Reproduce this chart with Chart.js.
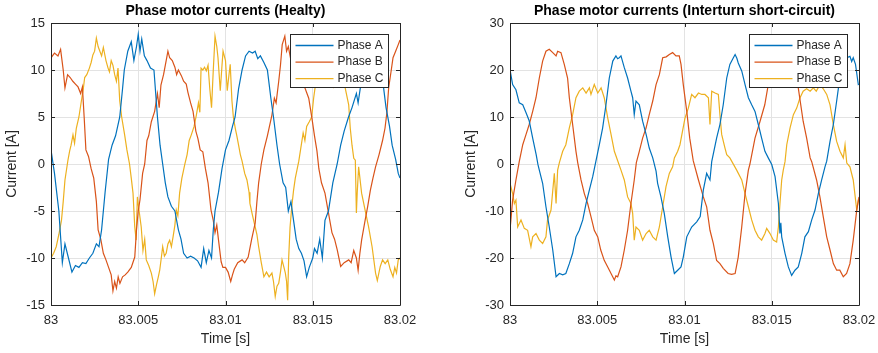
<!DOCTYPE html>
<html>
<head>
<meta charset="utf-8">
<script src="https://cdn.jsdelivr.net/npm/chart.js@4.4.0/dist/chart.umd.min.js"></script>
<style>
  body { margin: 0; background: #fff; width: 878px; height: 353px; overflow: hidden; position: relative; }
  canvas { position: absolute; top: 0; }
  #healthy { left: 0px; }
  #fault { left: 459px; }
</style>
</head>
<body>
<canvas id="healthy" width="430" height="353"></canvas>
<canvas id="fault" width="430" height="353"></canvas>
<script>
// time axis: ms after 83 s, ticks shown as seconds
var xTickValues = [0, 5, 10, 15, 20];
var xTickLabels = ["83", "83.005", "83.01", "83.015", "83.02"];
var phaseNames = ["Phase A", "Phase B", "Phase C"];
var phaseColors = ["#0072BD", "#D95319", "#EDB120"];

// healthy motor, [t ms, current A]
var healthyA = [[0,1.5],[0.2,-1],[0.45,-5],[0.65,-10.5],[0.8,-8.5],[1.0,-10],[1.2,-11.5],[1.4,-10.8],[1.6,-11],[1.8,-10.5],[2.0,-10.6],[2.2,-10],[2.4,-9.5],[2.6,-8.5],[2.75,-8.8],[2.9,-7],[3.1,-3],[3.3,0.5],[3.5,2],[3.7,3],[3.94,5],[4.1,8],[4.2,10],[4.4,12],[4.6,13],[4.75,11],[4.9,12.5],[5.0,13.8],[5.1,12],[5.2,13.3],[5.35,11.5],[5.5,11],[5.7,10.2],[5.9,10],[6.1,5],[6.25,2],[6.4,0],[6.55,-2],[6.7,-3.5],[6.9,-4.5],[7.1,-5],[7.3,-7],[7.45,-8],[7.6,-9.5],[7.8,-10],[8.0,-9.8],[8.2,-10],[8.4,-10.3],[8.6,-11],[8.75,-9],[8.9,-10.5],[9.05,-9.2],[9.2,-10],[9.3,-7],[9.4,-5],[9.6,-3],[9.8,-0.5],[10.0,1.5],[10.2,2.5],[10.4,4],[10.55,5],[10.75,8],[10.95,10],[11.15,11.5],[11.35,12],[11.55,11.8],[11.7,12],[11.85,11.2],[12.0,11.5],[12.2,10.8],[12.4,10],[12.6,7],[12.75,5],[12.95,2],[13.1,0],[13.3,-2],[13.45,-2.5],[13.6,-5],[13.75,-4],[13.9,-6],[14.05,-8],[14.2,-9],[14.35,-9.5],[14.5,-10.3],[14.65,-12],[14.8,-11],[15.0,-10],[15.1,-9],[15.25,-9.5],[15.4,-8],[15.55,-10],[15.7,-6],[15.9,-5],[16.15,-2],[16.4,0],[16.6,2],[16.8,3.5],[17.05,5],[17.25,6],[17.5,7.5],[17.6,6.5],[17.8,9],[18.1,11],[18.4,12],[18.7,11.5],[19.0,9],[19.2,6],[19.4,4],[19.55,2],[19.75,0.5],[19.9,-1],[20,-1.5]];
var healthyB = [[0,11.3],[0.2,11.8],[0.4,11.5],[0.55,12.2],[0.7,10],[0.8,8.1],[0.95,9.5],[1.1,9.2],[1.25,8.8],[1.4,8.5],[1.55,8.2],[1.7,7.5],[1.8,8.2],[1.9,5],[2.0,1.5],[2.15,0.8],[2.3,-0.5],[2.45,-1.5],[2.6,-4],[2.7,-7],[2.85,-8],[3.0,-9.5],[3.15,-10.2],[3.3,-11],[3.45,-11.8],[3.55,-13.5],[3.65,-12.5],[3.75,-13.2],[3.85,-12],[3.95,-12.7],[4.1,-12],[4.25,-11.8],[4.4,-11.5],[4.6,-11],[4.8,-9.9],[4.9,-7],[5.0,-5],[5.1,-3.8],[5.25,-1],[5.37,0],[5.5,2.5],[5.6,3],[5.75,4.5],[5.94,5.6],[6.1,7.5],[6.2,6],[6.3,8.4],[6.45,9.5],[6.6,11],[6.7,12],[6.8,11.3],[6.95,11],[7.1,10.3],[7.2,9.5],[7.3,10],[7.47,9.4],[7.6,8.8],[7.75,8.5],[7.85,7.6],[8.0,6.5],[8.14,5.6],[8.3,3.5],[8.42,2.7],[8.55,1.5],[8.7,1.3],[8.85,-0.5],[9.0,-2],[9.17,-4.9],[9.3,-6],[9.4,-7.3],[9.5,-6.5],[9.6,-8.1],[9.75,-10.4],[9.85,-11],[10.0,-11],[10.15,-11.5],[10.3,-12.5],[10.4,-11.8],[10.5,-11.2],[10.7,-10.5],[10.95,-10.2],[11.1,-10.5],[11.3,-9.9],[11.5,-8],[11.7,-6.3],[11.8,-4],[11.9,-2],[12.05,0],[12.2,1.5],[12.4,3],[12.66,5.2],[12.8,7],[12.9,6.5],[13.05,8.8],[13.15,10.5],[13.25,12.7],[13.4,13.6],[13.5,12],[13.6,12.5],[13.75,11],[13.95,10.5],[14.15,9.5],[14.35,8.5],[14.55,8.1],[14.77,7],[14.95,4.9],[15.1,3],[15.24,1.4],[15.35,-0.5],[15.5,-2],[15.7,-3.1],[15.9,-5.2],[16.1,-7.3],[16.25,-8],[16.4,-9.1],[16.6,-10.9],[16.8,-10.5],[17.06,-10.2],[17.2,-10.5],[17.35,-9.2],[17.5,-10],[17.6,-11.3],[17.7,-9.5],[17.8,-8.1],[18.0,-6],[18.15,-4.5],[18.3,-2.8],[18.45,-1.5],[18.6,-0.3],[18.8,1],[19.0,2.5],[19.14,3.8],[19.25,5.5],[19.35,8.1],[19.5,10],[19.6,11.3],[19.75,12],[19.9,12.7],[20,13.2]];
var healthyC = [[0,-10],[0.15,-9.5],[0.3,-8.8],[0.45,-7.5],[0.6,-6],[0.7,-4],[0.8,-1.7],[0.97,0.4],[1.07,1.4],[1.15,2],[1.26,3.1],[1.35,2.2],[1.45,3.8],[1.6,5],[1.74,6.7],[1.85,8],[1.93,9.2],[2.05,9.5],[2.2,10.2],[2.3,10.8],[2.4,11.6],[2.5,12],[2.6,13.4],[2.7,12.5],[2.8,12],[2.9,11.5],[3.0,12.4],[3.15,11],[3.27,10.2],[3.35,9.8],[3.45,11],[3.55,10.5],[3.65,9.5],[3.75,8.8],[3.84,10.2],[3.94,6.7],[4.05,5],[4.22,3.1],[4.35,1.5],[4.5,0],[4.6,-1.5],[4.7,-3.1],[4.8,-6.7],[4.88,-8.1],[4.95,-3.5],[5.05,-5],[5.17,-6.7],[5.27,-9.2],[5.37,-8],[5.46,-10.2],[5.6,-10.8],[5.75,-11.6],[5.85,-12.5],[5.94,-13.8],[6.05,-12.8],[6.15,-12],[6.23,-11.3],[6.32,-10],[6.4,-8.8],[6.5,-9.8],[6.6,-9.5],[6.7,-8.5],[6.8,-8.1],[6.9,-8.8],[7.0,-7.7],[7.1,-6.5],[7.18,-4.9],[7.27,-5.5],[7.37,-3.1],[7.5,-1.5],[7.66,-0.1],[7.8,1],[7.92,2.5],[8.04,3.1],[8.2,4],[8.33,5.2],[8.45,6.5],[8.53,5.5],[8.6,10.2],[8.7,10],[8.8,10.3],[8.9,9.9],[9.0,10.5],[9.1,8],[9.2,6],[9.3,10],[9.4,13.6],[9.5,12.5],[9.57,11.3],[9.7,7.8],[9.8,10.5],[9.86,12],[10.0,11],[10.1,7.8],[10.2,9.5],[10.27,10.6],[10.37,6.7],[10.45,5],[10.56,3.8],[10.65,3],[10.75,2],[10.85,1],[10.95,0.3],[11.1,-1],[11.23,-1.7],[11.35,-3],[11.4,-4.2],[11.55,-5.5],[11.7,-6.7],[11.8,-7.5],[11.9,-8.8],[12.05,-10.5],[12.2,-12],[12.35,-11.5],[12.5,-12],[12.66,-11.6],[12.75,-12.5],[12.85,-14.1],[12.95,-13],[13.05,-12.7],[13.15,-11.5],[13.24,-10.2],[13.35,-11],[13.43,-11.6],[13.5,-12.5],[13.56,-14.5],[13.62,-10],[13.7,-6.7],[13.8,-4.5],[13.9,-2.8],[14.0,-1.5],[14.1,-0.6],[14.2,0.3],[14.3,1.5],[14.45,3.3],[14.55,2.5],[14.65,4],[14.8,4.5],[14.94,5],[15.05,7],[15.2,9],[15.4,11],[15.6,12.5],[15.8,11],[16.0,10],[16.2,8.2],[16.4,9],[16.6,10],[16.75,9],[16.87,8],[17.06,6.3],[17.15,3.8],[17.25,2],[17.35,0.6],[17.44,0.4],[17.5,-5.2],[17.55,-3],[17.63,-0.3],[17.8,-3.1],[18.0,-4.9],[18.2,-6.7],[18.4,-8.8],[18.6,-11.6],[18.7,-12.4],[18.8,-11.5],[18.87,-10.9],[19.0,-10.2],[19.15,-10.6],[19.3,-10.2],[19.44,-11.2],[19.6,-12],[19.7,-11],[19.8,-11.6],[19.9,-10.2],[20,-10]];

// interturn short-circuit, [t ms, current A]
var faultA = [[0,20.1],[0.15,16.9],[0.34,15.8],[0.53,13],[0.73,12.6],[0.92,10.9],[1.1,9.2],[1.3,5.5],[1.5,2],[1.6,-0.1],[1.68,-1.3],[1.87,-4.1],[2.06,-9.1],[2.25,-13.4],[2.45,-18.3],[2.64,-24],[2.83,-23.3],[3.02,-23.6],[3.2,-23.3],[3.4,-21.2],[3.59,-19],[3.78,-15.5],[3.97,-14.1],[4.17,-11.9],[4.36,-8.4],[4.55,-5.5],[4.74,-2.7],[4.9,0.2],[5.12,4.1],[5.31,7.7],[5.5,12.6],[5.69,18.3],[5.89,21.9],[6.07,23],[6.17,22.4],[6.26,22.6],[6.36,23],[6.55,20.5],[6.74,18.3],[6.93,15.5],[7.03,14.1],[7.12,10.5],[7.22,13.4],[7.41,12.6],[7.6,9.1],[7.8,6.3],[7.98,3.4],[8.18,1.3],[8.37,-1.5],[8.46,-4.1],[8.65,-7],[8.84,-10.5],[9.04,-15.5],[9.23,-19.8],[9.42,-23.3],[9.61,-22.6],[9.8,-21.9],[9.93,-19.8],[10.13,-15.5],[10.41,-13.4],[10.7,-12.3],[10.9,-11.2],[11.08,-5.5],[11.27,-2],[11.46,-3.4],[11.56,0.5],[11.84,5.5],[12.03,8.4],[12.22,12.6],[12.42,18.3],[12.6,21.2],[12.8,22.6],[12.9,23.3],[13.0,22.5],[13.08,21.5],[13.28,19.8],[13.47,16.9],[13.66,14.1],[13.85,12.6],[14.04,11.2],[14.23,8.4],[14.42,5.5],[14.61,2.7],[14.8,1.3],[15.0,-0.1],[15.19,-2.7],[15.38,-8.4],[15.47,-14.8],[15.52,-12.5],[15.57,-15.5],[15.76,-19],[15.95,-21.9],[16.14,-23.7],[16.33,-22.6],[16.52,-21.9],[16.72,-19],[16.9,-15.5],[17.1,-14.4],[17.29,-11.9],[17.48,-9.8],[17.67,-6.3],[17.86,-3.4],[18.05,-0.6],[18.15,0.6],[18.34,4.8],[18.53,8.4],[18.72,13.4],[18.9,18.3],[19.1,21],[19.3,22.6],[19.48,22.9],[19.58,21.8],[19.67,22.6],[19.8,21.2],[19.96,16.9],[20,17]];
var faultB = [[0,-14.1],[0.15,-7.7],[0.34,-3.4],[0.53,0.5],[0.73,4.1],[0.92,6.3],[1.1,8.4],[1.3,11.2],[1.49,14.1],[1.68,18.3],[1.87,21.9],[2.06,24],[2.25,24.4],[2.45,23.7],[2.64,23],[2.73,24],[2.92,23.7],[3.11,21.2],[3.3,18.3],[3.4,14.1],[3.59,8.4],[3.78,2.7],[3.88,0.3],[4.07,-3.4],[4.26,-6.3],[4.45,-8.4],[4.64,-11.2],[4.83,-14.1],[5.03,-15.5],[5.2,-18.3],[5.4,-20.5],[5.6,-21.9],[5.79,-23.3],[5.98,-24.7],[6.07,-23.8],[6.17,-24],[6.36,-21.9],[6.55,-18.3],[6.74,-14.1],[6.93,-8.4],[7.12,-3.4],[7.24,0.3],[7.41,2.7],[7.6,5.5],[7.8,7.7],[7.98,10.5],[8.18,13.4],[8.37,16.9],[8.56,19],[8.75,22.6],[8.95,22.8],[9.13,23.3],[9.32,23.7],[9.51,23],[9.7,23],[9.8,21.2],[9.93,16.9],[10.13,11.2],[10.3,5.5],[10.5,0.7],[10.8,-3.4],[11.08,-7],[11.27,-9.1],[11.46,-14.1],[11.65,-16.9],[11.84,-20.5],[12.03,-21.2],[12.22,-22.2],[12.5,-23.3],[12.7,-23.5],[12.9,-23.3],[13.08,-19.8],[13.28,-13.4],[13.47,-6.3],[13.66,-1.3],[13.75,0],[14.04,5.5],[14.33,9.1],[14.6,12.6],[14.8,16.9],[15.0,19.5],[15.2,22],[15.5,23.2],[15.8,23],[16.1,21.5],[16.3,19],[16.52,16.2],[16.8,9.1],[17.0,5.5],[17.2,1.3],[17.29,0.5],[17.57,-3.4],[17.76,-7],[17.95,-11.2],[18.15,-15.5],[18.34,-18.3],[18.53,-21.2],[18.72,-22.6],[18.9,-22.6],[19.1,-24],[19.29,-23.3],[19.48,-21.2],[19.67,-16.2],[19.87,-9.8],[20,-7]];
var faultC = [[0,-4.1],[0.15,-6.3],[0.25,-8.4],[0.34,-7.7],[0.44,-13.4],[0.63,-11.9],[0.82,-13.7],[1.01,-14.1],[1.2,-17.6],[1.3,-15.5],[1.49,-14.8],[1.68,-16.2],[1.87,-16.9],[2.06,-15.5],[2.15,-11.9],[2.35,-9.8],[2.54,-2],[2.64,-8.4],[2.73,-1.3],[2.83,0.3],[3.02,2.7],[3.2,4.1],[3.4,7.7],[3.59,10.5],[3.78,14.1],[3.97,15.5],[4.17,16.2],[4.36,15.1],[4.55,16.2],[4.64,14.8],[4.83,16.9],[5.03,15.1],[5.22,16.2],[5.4,14.1],[5.6,9.8],[5.79,6.3],[5.98,2.7],[6.17,0.7],[6.36,-1.3],[6.55,-3.4],[6.74,-7],[6.93,-8.4],[7.03,-10.5],[7.12,-16.2],[7.22,-13.4],[7.41,-14.1],[7.6,-16.2],[7.8,-14.8],[7.98,-14.1],[8.18,-15.5],[8.37,-16.2],[8.56,-13.4],[8.75,-9.1],[8.94,-4.8],[9.13,-2],[9.32,-0.6],[9.42,1.3],[9.61,2.7],[9.74,4.1],[10.03,9.8],[10.22,11.9],[10.41,14.8],[10.6,14.1],[10.8,15.1],[10.99,14.8],[11.17,14.8],[11.37,14.1],[11.46,8.4],[11.56,15.5],[11.75,15.1],[11.94,14.8],[12.03,10.5],[12.13,6.3],[12.32,3.4],[12.42,2],[12.6,1.3],[12.75,0.3],[12.99,-1.3],[13.28,-3.4],[13.47,-6.3],[13.66,-9.1],[13.85,-11.9],[14.04,-14.1],[14.23,-15.5],[14.42,-16.2],[14.61,-14.8],[14.71,-13.7],[14.9,-14.8],[15.09,-16.2],[15.28,-16.6],[15.38,-13.4],[15.47,-8.4],[15.57,-3.4],[15.66,-1.3],[15.76,0.5],[15.86,4.1],[16.05,7.7],[16.24,10.5],[16.43,11.9],[16.62,14.1],[16.8,15.5],[17.0,16],[17.2,15.5],[17.38,16.2],[17.55,15.5],[17.77,16.9],[17.95,16],[18.15,14.8],[18.34,12.6],[18.53,8.4],[18.72,4.8],[18.91,2.7],[19.1,1.3],[19.2,4.1],[19.3,0.2],[19.48,-0.6],[19.67,-3.4],[19.87,-9.8],[19.96,-7.7],[20,-8]];

var fontFam = "'Liberation Sans', Arial, Helvetica, sans-serif";
var axisColor = "#262626";

// matlab style: box, inward ticks, legend box, title over the axes
var matlabAxes = {
    id: "matlabAxes",
    afterDatasetsDraw: function(chart) {
        var ctx = chart.ctx;
        var a = chart.chartArea;
        var xs = chart.scales.x, ys = chart.scales.y;
        ctx.save();
        ctx.strokeStyle = axisColor;
        ctx.lineWidth = 1;
        ctx.beginPath();
        ctx.rect(Math.round(a.left) + 0.5, Math.round(a.top) + 0.5, Math.round(a.right - a.left), Math.round(a.bottom - a.top));
        xs.ticks.forEach(function(t) {
            var px = Math.round(xs.getPixelForValue(t.value)) + 0.5;
            ctx.moveTo(px, a.bottom); ctx.lineTo(px, a.bottom - 4);
            ctx.moveTo(px, a.top); ctx.lineTo(px, a.top + 4);
        });
        ys.ticks.forEach(function(t) {
            var py = Math.round(ys.getPixelForValue(t.value)) + 0.5;
            ctx.moveTo(a.left, py); ctx.lineTo(a.left + 4, py);
            ctx.moveTo(a.right, py); ctx.lineTo(a.right - 4, py);
        });
        ctx.stroke();

        // legend
        var w = 98, h = 53;
        var lx = Math.round(a.right) - 12 - w + 0.5, ly = Math.round(a.top) + 11 + 0.5;
        ctx.fillStyle = "#fff";
        ctx.fillRect(lx, ly, w, h);
        ctx.strokeRect(lx, ly, w, h);
        ctx.font = "12px " + fontFam;
        ctx.textBaseline = "middle";
        chart.data.datasets.forEach(function(ds, i) {
            var yy = ly + 11 + i * 16.6;
            ctx.strokeStyle = ds.borderColor;
            ctx.lineWidth = 1.3;
            ctx.beginPath();
            ctx.moveTo(lx + 5, yy); ctx.lineTo(lx + 43, yy);
            ctx.stroke();
            ctx.fillStyle = axisColor;
            ctx.fillText(ds.label, lx + 47, yy);
        });

        // title
        ctx.fillStyle = "#000";
        ctx.font = "bold 14px " + fontFam;
        ctx.textAlign = "center";
        ctx.fillText(chart.options.plugins.matlabAxes.text, (a.left + a.right) / 2, 11.5);
        ctx.restore();
    }
};

function makeChart(id, title, series, yMin, yMax, yStep) {
    var datasets = series.map(function(s, i) {
        return {
            label: phaseNames[i],
            data: s.map(function(p) { return {x: p[0], y: p[1]}; }),
            borderColor: phaseColors[i],
            borderWidth: 1.2,
            pointRadius: 0,
            tension: 0,
            fill: false
        };
    });
    return new Chart(document.getElementById(id), {
        type: "line",
        data: {datasets: datasets},
        plugins: [matlabAxes],
        options: {
            responsive: false,
            animation: false,
            devicePixelRatio: 1,
            layout: {padding: {top: 23, right: 30, bottom: 5, left: 0}},
            plugins: {
                legend: {display: false},
                title: {display: false},
                tooltip: {enabled: false},
                matlabAxes: {text: title}
            },
            scales: {
                x: {
                    type: "linear",
                    min: 0, max: 20,
                    afterBuildTicks: function(s) { s.ticks = xTickValues.map(function(v) { return {value: v}; }); },
                    afterFit: function(s) { s.height = 43; },
                    grid: {color: "#e3e3e3", drawTicks: false},
                    border: {display: false},
                    ticks: {
                        padding: 8,
                        color: axisColor,
                        font: {family: fontFam, size: 13},
                        maxRotation: 0,
                        callback: function(v) { return xTickLabels[xTickValues.indexOf(v)]; }
                    },
                    title: {display: true, text: "Time [s]", color: axisColor, font: {family: fontFam, size: 14}, padding: {top: 2, bottom: 0}}
                },
                y: {
                    min: yMin, max: yMax,
                    afterFit: function(s) { s.width = 51; },
                    grid: {color: "#e3e3e3", drawTicks: false},
                    border: {display: false},
                    ticks: {stepSize: yStep, padding: 6, color: axisColor, font: {family: fontFam, size: 13}},
                    title: {display: true, text: "Current [A]", color: axisColor, font: {family: fontFam, size: 14}, padding: {top: 4, bottom: 0}}
                }
            }
        }
    });
}

makeChart("healthy", "Phase motor currents (Healty)", [healthyA, healthyB, healthyC], -15, 15, 5);
makeChart("fault", "Phase motor currents (Interturn short-circuit)", [faultA, faultB, faultC], -30, 30, 10);
</script>
</body>
</html>
